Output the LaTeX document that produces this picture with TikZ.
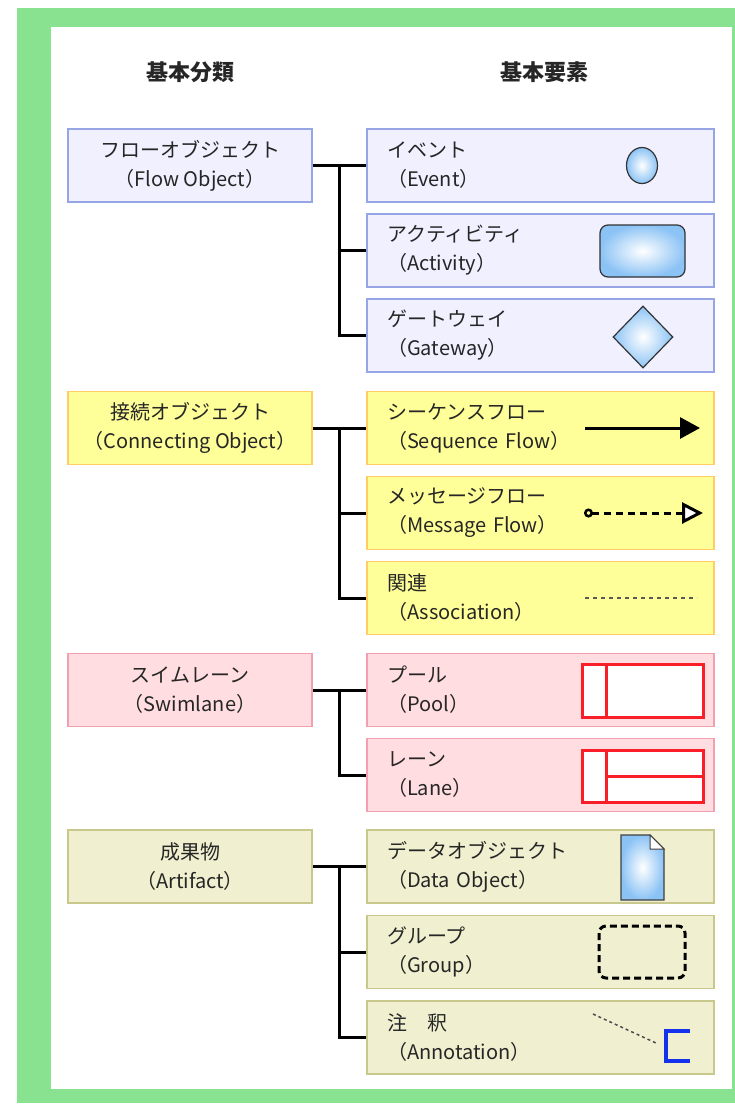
\documentclass[tikz,border=0pt]{standalone}
\usepackage{fontspec}
\setmainfont{Noto Sans CJK JP}
\usetikzlibrary{arrows.meta,shapes.geometric}
\definecolor{frame}{RGB}{136,226,144}
\definecolor{flowfill}{RGB}{240,240,255}
\definecolor{flowline}{RGB}{150,165,228}
\definecolor{connfill}{RGB}{255,255,153}
\definecolor{connline}{RGB}{255,204,102}
\definecolor{swimfill}{RGB}{255,221,225}
\definecolor{swimline}{RGB}{240,160,175}
\definecolor{artfill}{RGB}{240,240,208}
\definecolor{artline}{RGB}{200,200,140}
\definecolor{iconblue}{RGB}{140,195,245}
\definecolor{poolred}{RGB}{250,30,40}
\definecolor{annblue}{RGB}{20,50,235}
\begin{document}
\begin{tikzpicture}[x=1pt,y=-1pt,
    box/.style={draw=#1line,fill=#1fill,line width=1.5pt,minimum height=73pt,
      text=black!85,font=\fontsize{20}{29}\selectfont},
    cat/.style={box=#1,minimum width=244pt,inner sep=0pt,align=center},
    elem/.style={box=#1,inner xsep=20pt,inner ysep=0pt,text width=307pt,align=left},
    head/.style={text=black!85,font=\fontsize{22}{26}\selectfont\bfseries},
    link/.style={line width=3pt},
    icon/.style={draw=black!80,line width=1.2pt,inner color=white,outer color=iconblue}]
    % frame
    \useasboundingbox (0,0) rectangle (735,1104);
    \fill[frame] (17,8) rectangle (735,1103);
    \fill[white] (51,27) rectangle (732,1089);
    % headings
    \node[head] (h1) at (190,72) {基本分類};
    \node[head] (h2) at (544,72) {基本要素};
    % left column
    \node[cat=flow] (fo) at (190,165.5) {フローオブジェクト\\（Flow Object）};
    \node[cat=conn] (co) at (190,428) {接続オブジェクト\\（Connecting Object）};
    \node[cat=swim] (sw) at (190,690) {スイムレーン\\（Swimlane）};
    \node[cat=art] (ar) at (190,866.5) {成果物\\（Artifact）};
    % right column
    \foreach \n/\y/\k/\jp/\en in {ev/165.5/flow/イベント/Event,
        ac/250.5/flow/アクティビティ/Activity, gw/335.5/flow/ゲートウェイ/Gateway,
        sq/428/conn/シーケンスフロー/Sequence Flow, ms/513/conn/メッセージフロー/Message Flow,
        as/598/conn/関連/Association, pl/690/swim/プール/Pool, ln/775/swim/レーン/Lane,
        dt/866.5/art/データオブジェクト/Data Object, gr/952/art/グループ/Group,
        an/1037.5/art/注　釈/Annotation}
    {
    \node[elem=\k] (\n) at (540.5,\y) {\jp\\（\en）};
    }
    % links
    \foreach \a/\b/\c/\d in {fo/ev/ac/gw, co/sq/ms/as, ar/dt/gr/an}
    {
    \draw[link] (\a) -- (\b);
    \draw[link] ([xshift=27pt]\a.east) |- (\c);
    \draw[link] ([xshift=27pt]\a.east) |- (\d);
    }
    \draw[link] (sw) -- (pl);
    \draw[link] ([xshift=27pt]sw.east) |- (ln);
    % icons
    \node[icon,ellipse,minimum width=31pt,minimum height=36pt] (evi) at (642,165.5) {};
    \node[icon,rounded corners=8pt,minimum width=85pt,minimum height=52pt] (aci) at (642.5,251) {};
    \node[icon,diamond,minimum width=60pt,minimum height=62pt,inner sep=0pt] (gwi) at (643,337) {};
    \draw[line width=3pt,-{Triangle[length=20pt,width=21pt]}] (585,428) -- (700,428);
    \draw[line width=3pt,dash pattern=on 7pt off 5pt,
      {Circle[open,length=9pt,width=9pt,line width=2.5pt]}-{Triangle[open,length=21pt,width=21pt,line width=3pt,fill=white]}]
      (584,513) -- (703,513);
    \draw[line width=2.5pt,black!65,dash pattern=on 4pt off 4pt] (585,598) -- (697,598);
    \draw[poolred,line width=3pt,fill=white] (582,664) rectangle (703,717);
    \draw[poolred,line width=3pt] (606,664) -- (606,717);
    \draw[poolred,line width=3pt,fill=white] (582,750) rectangle (703,802);
    \draw[poolred,line width=3pt] (606,750) -- (606,802) (606,776) -- (703,776);
    \shadedraw[draw=black!75,line width=1.2pt,inner color=white,outer color=iconblue]
      (621,835) -- (650,835) -- (664,849) -- (664,900) -- (621,900) -- cycle;
    \draw[black!75,line width=1pt,fill=white] (650,835) -- (650,849) -- (664,849) -- cycle;
    \draw[line width=3pt,dash pattern=on 7pt off 4pt,rounded corners=7pt] (599,926) rectangle (685,978);
    \draw[black!70,line width=1.5pt,dash pattern=on 3pt off 3pt] (593,1014) -- (656,1043);
    \draw[annblue,line width=4pt] (690,1031) -- (666,1031) -- (666,1061) -- (690,1061);
\end{tikzpicture}
\end{document}
